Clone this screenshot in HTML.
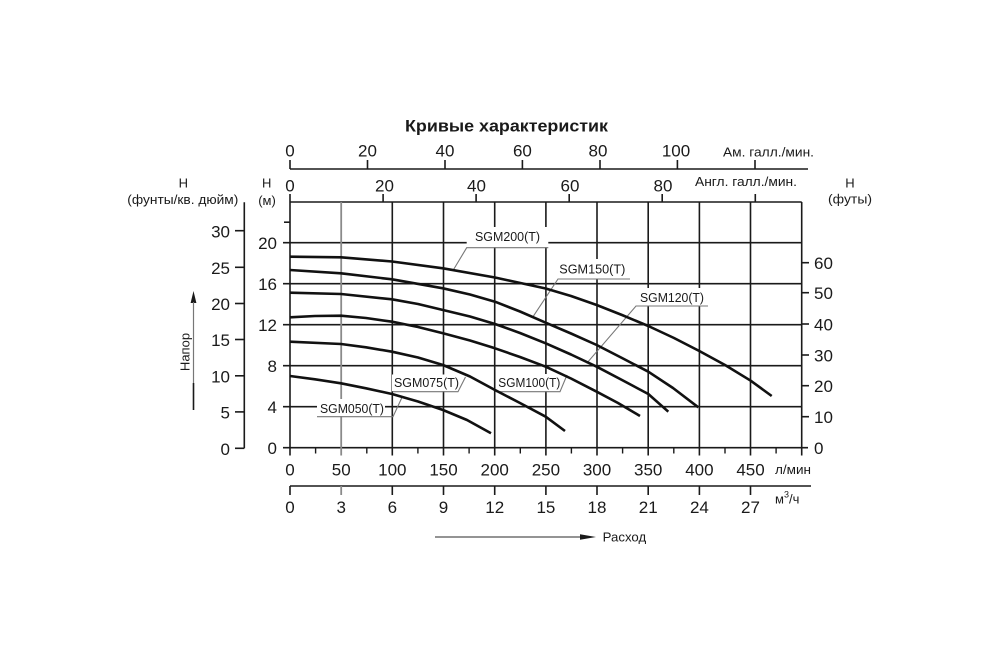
<!DOCTYPE html>
<html><head><meta charset="utf-8"><style>
html,body{margin:0;padding:0;background:#fff;}
svg{display:block;}
text{font-family:"Liberation Sans",Arial,sans-serif;fill:#1a1a1a;}
</style></head><body>
<svg width="1000" height="667" viewBox="0 0 1000 667" xmlns="http://www.w3.org/2000/svg">
<rect width="1000" height="667" fill="#fff"/>

<!-- Title -->
<text x="506.5" y="131.7" font-size="17" font-weight="bold" text-anchor="middle" textLength="203" lengthAdjust="spacingAndGlyphs">Кривые характеристик</text>

<!-- US gallons axis -->
<g stroke="#1a1a1a" stroke-width="1.6">
<line x1="290" y1="169" x2="808" y2="169"/>
<line x1="290" y1="160" x2="290" y2="169"/>
<line x1="367.5" y1="160" x2="367.5" y2="169"/>
<line x1="445" y1="160" x2="445" y2="169"/>
<line x1="522.4" y1="160" x2="522.4" y2="169"/>
<line x1="600" y1="160" x2="600" y2="169"/>
<line x1="677.4" y1="160" x2="677.4" y2="169"/>
<line x1="755" y1="160" x2="755" y2="169"/>
</g>
<g font-size="17" text-anchor="middle">
<text x="290" y="156.7">0</text>
<text x="367.5" y="156.7">20</text>
<text x="445" y="156.7">40</text>
<text x="522.4" y="156.7">60</text>
<text x="598" y="156.7">80</text>
<text x="676" y="156.7">100</text>
</g>
<text x="723" y="156.7" font-size="13" textLength="91" lengthAdjust="spacingAndGlyphs">Ам. галл./мин.</text>

<!-- Imperial gallons axis ticks -->
<g stroke="#1a1a1a" stroke-width="1.6">
<line x1="290" y1="194" x2="290" y2="202"/>
<line x1="383.1" y1="194" x2="383.1" y2="202"/>
<line x1="476.1" y1="194" x2="476.1" y2="202"/>
<line x1="569.2" y1="194" x2="569.2" y2="202"/>
<line x1="662.2" y1="194" x2="662.2" y2="202"/>
<line x1="755.3" y1="194" x2="755.3" y2="202"/>
</g>
<g font-size="17" text-anchor="middle">
<text x="290" y="191.7">0</text>
<text x="384.5" y="191.7">20</text>
<text x="476.5" y="191.7">40</text>
<text x="570" y="191.7">60</text>
<text x="663" y="191.7">80</text>
</g>
<text x="695" y="186" font-size="13" textLength="102" lengthAdjust="spacingAndGlyphs">Англ. галл./мин.</text>

<!-- Axis titles -->
<g font-size="13" text-anchor="middle">
<text x="183.3" y="187.3">H</text>
<text x="182.8" y="204" textLength="111" lengthAdjust="spacingAndGlyphs">(фунты/кв. дюйм)</text>
<text x="266.7" y="187.3">H</text>
<text x="267" y="205">(м)</text>
<text x="850" y="187.7">H</text>
<text x="850" y="203.7" textLength="44" lengthAdjust="spacingAndGlyphs">(футы)</text>
</g>

<!-- Grid: horizontal lines -->
<g stroke="#1a1a1a" stroke-width="1.6">
<line x1="290" y1="202" x2="801.7" y2="202"/>
<line x1="283" y1="242.7" x2="801.7" y2="242.7"/>
<line x1="283" y1="283.7" x2="801.7" y2="283.7"/>
<line x1="283" y1="324.7" x2="801.7" y2="324.7"/>
<line x1="283" y1="365.7" x2="801.7" y2="365.7"/>
<line x1="283" y1="406.7" x2="801.7" y2="406.7"/>
<line x1="283" y1="447.7" x2="808" y2="447.7"/>
<line x1="284" y1="222.2" x2="290" y2="222.2"/>
</g>
<!-- Grid: vertical lines -->
<line x1="341.2" y1="202" x2="341.2" y2="455.5" stroke="#8a8a8a" stroke-width="1.8"/>
<g stroke="#1a1a1a" stroke-width="1.6">
<line x1="290" y1="202" x2="290" y2="455.5"/>
<line x1="392.3" y1="202" x2="392.3" y2="455.5"/>
<line x1="443.5" y1="202" x2="443.5" y2="455.5"/>
<line x1="494.7" y1="202" x2="494.7" y2="455.5"/>
<line x1="545.9" y1="202" x2="545.9" y2="455.5"/>
<line x1="597" y1="202" x2="597" y2="455.5"/>
<line x1="648.2" y1="202" x2="648.2" y2="455.5"/>
<line x1="699.4" y1="202" x2="699.4" y2="455.5"/>
<line x1="750.5" y1="202" x2="750.5" y2="455.5"/>
<line x1="801.7" y1="202" x2="801.7" y2="455.5"/>
</g>
<!-- minor ticks -->
<g stroke="#1a1a1a" stroke-width="1.4">
<line x1="315.6" y1="447.7" x2="315.6" y2="453.5"/>
<line x1="366.8" y1="447.7" x2="366.8" y2="453.5"/>
<line x1="417.9" y1="447.7" x2="417.9" y2="453.5"/>
<line x1="469.1" y1="447.7" x2="469.1" y2="453.5"/>
<line x1="520.3" y1="447.7" x2="520.3" y2="453.5"/>
<line x1="571.4" y1="447.7" x2="571.4" y2="453.5"/>
<line x1="622.6" y1="447.7" x2="622.6" y2="453.5"/>
<line x1="673.8" y1="447.7" x2="673.8" y2="453.5"/>
<line x1="725" y1="447.7" x2="725" y2="453.5"/>
<line x1="776.1" y1="447.7" x2="776.1" y2="453.5"/>
</g>

<!-- Left m labels -->
<g font-size="17" text-anchor="end">
<text x="277" y="249">20</text>
<text x="277" y="290">16</text>
<text x="277" y="331">12</text>
<text x="277" y="372">8</text>
<text x="277" y="413">4</text>
<text x="277" y="454">0</text>
</g>

<!-- psi axis -->
<g stroke="#1a1a1a" stroke-width="1.6">
<line x1="244.3" y1="202.3" x2="244.3" y2="448.3"/>
<line x1="235" y1="230.7" x2="244.3" y2="230.7"/>
<line x1="235" y1="267.3" x2="244.3" y2="267.3"/>
<line x1="235" y1="303.5" x2="244.3" y2="303.5"/>
<line x1="235" y1="339.5" x2="244.3" y2="339.5"/>
<line x1="235" y1="375.8" x2="244.3" y2="375.8"/>
<line x1="235" y1="411.9" x2="244.3" y2="411.9"/>
<line x1="235" y1="448.3" x2="244.3" y2="448.3"/>
</g>
<g font-size="17" text-anchor="end">
<text x="230" y="237.5">30</text>
<text x="230" y="274">25</text>
<text x="230" y="310">20</text>
<text x="230" y="346">15</text>
<text x="230" y="382.5">10</text>
<text x="230" y="418.5">5</text>
<text x="230" y="455">0</text>
</g>

<!-- Напор arrow -->
<polygon points="193.5,291 190.6,303 196.4,303" fill="#1a1a1a"/>
<line x1="193.5" y1="302" x2="193.5" y2="383" stroke="#777" stroke-width="1.2"/>
<line x1="193.5" y1="383" x2="193.5" y2="410" stroke="#1a1a1a" stroke-width="1.6"/>
<text x="0" y="0" font-size="13" text-anchor="middle" transform="translate(189.5,352) rotate(-90)">Напор</text>

<!-- Right ft axis -->
<g stroke="#1a1a1a" stroke-width="1.6">
<line x1="801.7" y1="262.7" x2="809" y2="262.7"/>
<line x1="801.7" y1="292.7" x2="809" y2="292.7"/>
<line x1="801.7" y1="324" x2="809" y2="324"/>
<line x1="801.7" y1="355" x2="809" y2="355"/>
<line x1="801.7" y1="385.7" x2="809" y2="385.7"/>
<line x1="801.7" y1="416.7" x2="809" y2="416.7"/>
</g>
<g font-size="17">
<text x="814" y="269">60</text>
<text x="814" y="299">50</text>
<text x="814" y="330.5">40</text>
<text x="814" y="361.5">30</text>
<text x="814" y="392">20</text>
<text x="814" y="423">10</text>
<text x="814" y="454">0</text>
</g>

<!-- l/min labels -->
<g font-size="17" text-anchor="middle">
<text x="290" y="475.5">0</text>
<text x="341.2" y="475.5">50</text>
<text x="392.3" y="475.5">100</text>
<text x="443.5" y="475.5">150</text>
<text x="494.7" y="475.5">200</text>
<text x="545.9" y="475.5">250</text>
<text x="597" y="475.5">300</text>
<text x="648.2" y="475.5">350</text>
<text x="699.4" y="475.5">400</text>
<text x="750.5" y="475.5">450</text>
</g>
<text x="775" y="474" font-size="13" textLength="36" lengthAdjust="spacingAndGlyphs">л/мин</text>

<!-- m3/h axis -->
<g stroke="#1a1a1a" stroke-width="1.6">
<line x1="290" y1="486" x2="811" y2="486"/>
<line x1="290" y1="486" x2="290" y2="495"/>
<line x1="392.3" y1="486" x2="392.3" y2="495"/>
<line x1="443.5" y1="486" x2="443.5" y2="495"/>
<line x1="494.7" y1="486" x2="494.7" y2="495"/>
<line x1="545.9" y1="486" x2="545.9" y2="495"/>
<line x1="597" y1="486" x2="597" y2="495"/>
<line x1="648.2" y1="486" x2="648.2" y2="495"/>
<line x1="699.4" y1="486" x2="699.4" y2="495"/>
<line x1="750.5" y1="486" x2="750.5" y2="495"/>
</g>
<line x1="341.2" y1="486" x2="341.2" y2="495" stroke="#8a8a8a" stroke-width="1.8"/>
<g font-size="17" text-anchor="middle">
<text x="290" y="513">0</text>
<text x="341.2" y="513">3</text>
<text x="392.3" y="513">6</text>
<text x="443.5" y="513">9</text>
<text x="494.7" y="513">12</text>
<text x="545.9" y="513">15</text>
<text x="597" y="513">18</text>
<text x="648.2" y="513">21</text>
<text x="699.4" y="513">24</text>
<text x="750.5" y="513">27</text>
</g>
<text x="775" y="503.5" font-size="13">м<tspan font-size="9" dy="-6">3</tspan><tspan dy="6">/ч</tspan></text>

<!-- Расход arrow -->
<line x1="435" y1="537" x2="584" y2="537" stroke="#555" stroke-width="1.3"/>
<polygon points="580,534.3 596,537 580,539.7" fill="#1a1a1a"/>
<text x="602.7" y="541.5" font-size="13" textLength="43.5" lengthAdjust="spacingAndGlyphs">Расход</text>

<!-- label white boxes -->
<g fill="#fff">
<rect x="466.7" y="227" width="81.6" height="20.2"/>
<rect x="556" y="259" width="73" height="19.5"/>
<rect x="636" y="288" width="72" height="17.5"/>
<rect x="496" y="374" width="66" height="17.2"/>
<rect x="392" y="374.5" width="67" height="16.7"/>
<rect x="317" y="399" width="68" height="17.2"/>
</g>

<!-- leaders & underlines -->
<g stroke="#777" stroke-width="1.1" fill="none">
<polyline points="453.3,270 466.7,247.7 548.3,247.7"/>
<polyline points="533,316.7 558,279 630,279"/>
<polyline points="586.7,363.3 636,306 708,306"/>
<polyline points="496,391.7 560,391.7 567,375"/>
<polyline points="393,391.7 458,391.7 465.5,377"/>
<polyline points="317,416.7 393,416.7 401.7,398"/>
</g>

<!-- curves -->
<g stroke="#111" stroke-width="2.6" fill="none" stroke-linejoin="round" stroke-linecap="butt">
<polyline points="290,256.7 341,257.3 392,261.5 443,268.3 495,277.5 545.7,288.5 571,296 596.7,305 622,315 648.3,326 674,338 699.3,351 725,365 750.7,380.7 771.7,396"/>
<polyline points="290,270 341,273.3 392,279.3 443,288.3 470,294.5 495,301.7 520,311.5 545.7,322.7 571,333.5 596.7,345 622,358 648.3,371.7 673,388 698.3,407.3"/>
<polyline points="290,292.7 341,294 392,299.3 418,304 443,310 470,316.5 495,324 520,333 545.7,343.3 571,354.5 596.7,366.7 622,380 648.3,394 668.3,411.7"/>
<polyline points="290,317.3 315,316 341,315.7 366,318 392,321.7 418,327 443,333.3 470,340.5 495,348.3 520,357 545.7,366.7 571,378.5 596.7,391.7 618,403 640,416"/>
<polyline points="290,341.7 341,344 366,347.3 392,351.7 418,357.5 443,365 470,376.5 495,390 520,403 545.7,416.7 565,431"/>
<polyline points="290,376 315,379.3 341,383.3 366,388.3 392,394 418,401.5 443,410 467,420 491,433.3"/>
</g>

<!-- curve labels -->
<g font-size="12.5">
<text x="475" y="241.2" textLength="65" lengthAdjust="spacingAndGlyphs">SGM200(T)</text>
<text x="559.3" y="273.5" textLength="66" lengthAdjust="spacingAndGlyphs">SGM150(T)</text>
<text x="640" y="302" textLength="64" lengthAdjust="spacingAndGlyphs">SGM120(T)</text>
<text x="498.3" y="387.2" textLength="62" lengthAdjust="spacingAndGlyphs">SGM100(T)</text>
<text x="394" y="387.2" textLength="65" lengthAdjust="spacingAndGlyphs">SGM075(T)</text>
<text x="320" y="412.8" textLength="64" lengthAdjust="spacingAndGlyphs">SGM050(T)</text>
</g>
</svg>
</body></html>
